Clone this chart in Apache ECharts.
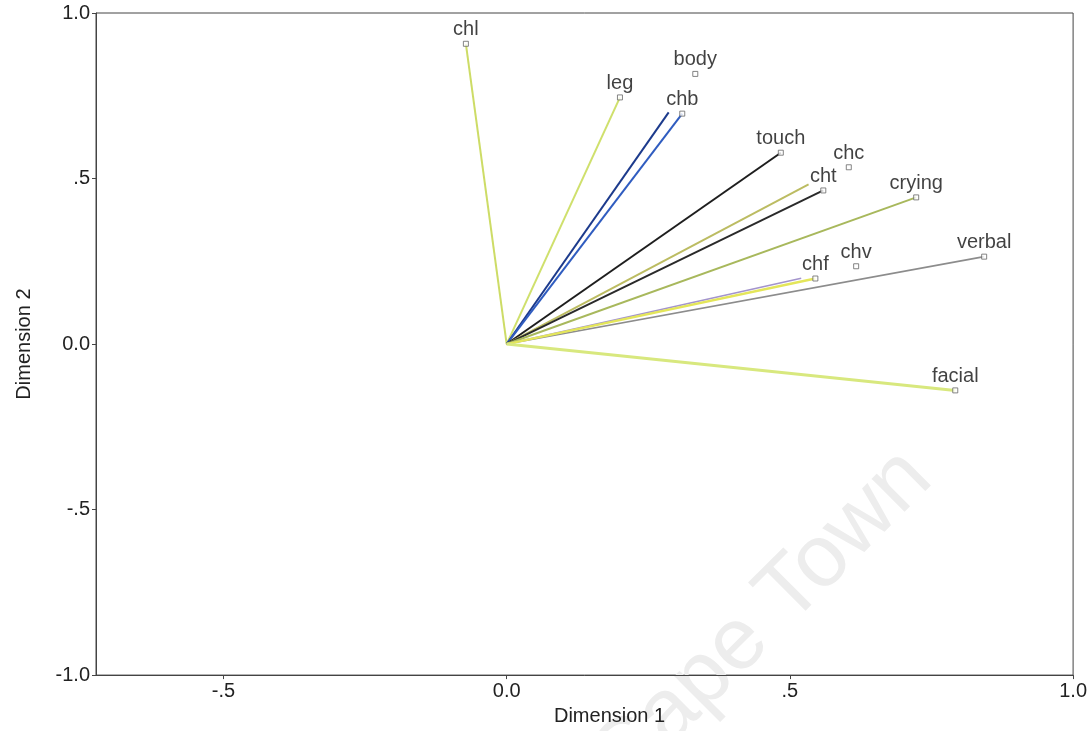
<!DOCTYPE html>
<html>
<head>
<meta charset="utf-8">
<script src="https://cdn.jsdelivr.net/npm/echarts@6/dist/echarts.min.js"></script>
<style>
html,body{margin:0;padding:0;background:#fff;}
#chart{width:1090px;height:731px;}
</style>
</head>
<body>
<div id="chart"></div>
<script>
// Labelled variable points (component loadings)
var pointNames = ['chl','leg','body','chb','touch','chc','cht','crying','verbal','chv','chf','facial'];
var pointX = [-0.072, 0.200, 0.333, 0.310, 0.484, 0.604, 0.559, 0.723, 0.843, 0.617, 0.545, 0.792];
var pointY = [0.907, 0.745, 0.816, 0.696, 0.578, 0.534, 0.464, 0.443, 0.264, 0.235, 0.198, -0.140];

// Vectors drawn from the origin
var vecX = [-0.072, 0.200, 0.286, 0.310, 0.484, 0.533, 0.559, 0.723, 0.843, 0.520, 0.545, 0.792];
var vecY = [0.907, 0.745, 0.700, 0.696, 0.578, 0.482, 0.464, 0.443, 0.264, 0.199, 0.198, -0.140];
var vecColors = ['#cddc66','#cfe06c','#1c3a8c','#2f5cc0','#1e1e1e','#bcbc62','#2a2a2a','#a8b85c','#8c8c8c','#a394cc','#e4e65a','#d8e87e'];
var vecWidths = [2,2,2,2,2,2,2,2,1.6,1.6,2.4,3];

// Axis ticks
var xTicks = [-0.5, 0, 0.5, 1.0];

function fmt(v){
  var s = Number(v).toFixed(1);
  if (Math.abs(v) < 1 && v !== 0) s = s.replace('0.', '.');
  return s;
}

var series = [];
for (var i = 0; i < vecX.length; i++) {
  series.push({
    type: 'line',
    data: [[0,0],[vecX[i], vecY[i]]],
    symbol: 'none',
    silent: true,
    z: 2,
    lineStyle: {color: vecColors[i], width: vecWidths[i]}
  });
}
series.push({
  type: 'scatter',
  z: 5,
  symbol: 'rect',
  symbolSize: 5,
  itemStyle: {color: '#fff', borderColor: '#666', borderWidth: 1},
  label: {
    show: true, position: 'top', distance: 1,
    formatter: function(p){ return p.name; },
    fontFamily: 'Liberation Sans, Arial, sans-serif', fontSize: 20, color: '#111'
  },
  data: pointNames.map(function(n, i){ return {name: n, value: [pointX[i], pointY[i]]}; })
});

var chart = echarts.init(document.getElementById('chart'), null, {renderer: 'canvas'});
chart.setOption({
  animation: false,
  backgroundColor: '#fff',
  grid: {left: 96, right: 15, top: 13, bottom: 54, show: true, borderColor: '#444', borderWidth: 1},
  graphic: [{
    type: 'text',
    z: 0,
    silent: true,
    x: 762, y: 620,
    rotation: Math.PI / 4,
    style: {
      text: 'Cape Town',
      font: '88px "Liberation Sans", Arial, sans-serif',
      fill: '#ededed',
      align: 'center',
      verticalAlign: 'middle'
    }
  }],
  xAxis: {
    type: 'value', min: -0.725, max: 1.0,
    name: 'Dimension 1', nameLocation: 'middle', nameGap: 30,
    nameTextStyle: {fontFamily: 'Liberation Sans, Arial, sans-serif', fontSize: 20, color: '#222', padding: [0,0,0,50]},
    axisLine: {onZero: false, lineStyle: {color: '#444'}},
    axisTick: {show: true, length: 4, customValues: xTicks, lineStyle: {color: '#444'}},
    axisLabel: {customValues: xTicks, formatter: fmt, margin: 6, fontFamily: 'Liberation Sans, Arial, sans-serif', fontSize: 20, color: '#222'},
    splitLine: {show: false}
  },
  yAxis: {
    type: 'value', min: -1, max: 1, interval: 0.5,
    name: 'Dimension 2', nameLocation: 'middle', nameGap: 62,
    nameTextStyle: {fontFamily: 'Liberation Sans, Arial, sans-serif', fontSize: 20, color: '#222'},
    axisLine: {onZero: false, lineStyle: {color: '#444'}},
    axisTick: {show: true, length: 4, lineStyle: {color: '#444'}},
    axisLabel: {formatter: fmt, margin: 6, fontFamily: 'Liberation Sans, Arial, sans-serif', fontSize: 20, color: '#222'},
    splitLine: {show: false}
  },
  series: series
});
</script>
</body>
</html>
